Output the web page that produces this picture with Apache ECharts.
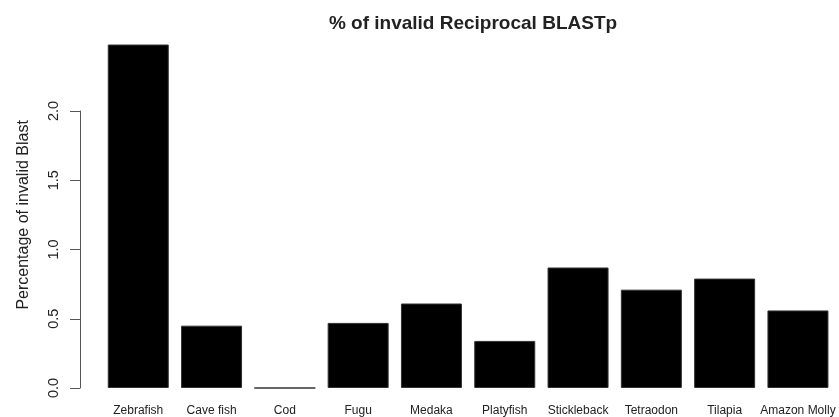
<!DOCTYPE html>
<html>
<head>
<meta charset="utf-8">
<script src="https://cdn.jsdelivr.net/npm/echarts@6/dist/echarts.min.js"></script>
<style>
  html, body { margin: 0; padding: 0; background: #fff; }
  #chart { width: 839px; height: 417px; }
</style>
</head>
<body>
<div id="chart"></div>
<script>
const species = ['Zebrafish', 'Cave fish', 'Cod', 'Fugu', 'Medaka', 'Platyfish', 'Stickleback', 'Tetraodon', 'Tilapia', 'Amazon Molly']
const invalidPct = [2.48, 0.45, 0, 0.47, 0.61, 0.34, 0.87, 0.71, 0.79, 0.56]
const yTicks = [0, 0.5, 1.0, 1.5, 2.0]

const font = 'Liberation Sans, Arial, Helvetica, sans-serif'
const ink = '#222'

const chart = echarts.init(document.getElementById('chart'))

chart.setOption({
  backgroundColor: '#fff',
  animation: false,
  title: {
    text: '% of invalid Reciprocal BLASTp',
    left: 468,
    textAlign: 'center',
    top: 9,
    textStyle: { fontFamily: font, fontSize: 19, fontWeight: 'bold', color: ink }
  },
  grid: [
    // plot region used by the bars
    { left: 101.6, right: 4.4, top: 41.75, bottom: 29 },
    // region spanning only the labelled ticks, for the R-style axis
    { left: 101.6, right: 4.4, top: 111, bottom: 29 }
  ],
  xAxis: [
    {
      type: 'category',
      gridIndex: 0,
      data: species,
      axisLine: { show: false },
      axisTick: { show: false },
      axisLabel: { interval: 0, margin: 17, fontFamily: font, fontSize: 12, color: ink }
    },
    { type: 'category', gridIndex: 1, data: species, show: false }
  ],
  yAxis: [
    {
      type: 'value',
      gridIndex: 0,
      min: 0,
      max: 2.5,
      name: 'Percentage of invalid Blast',
      nameLocation: 'middle',
      nameGap: 70,
      nameTextStyle: { fontFamily: font, fontSize: 16, color: ink },
      axisLine: { show: false },
      axisTick: { show: false },
      axisLabel: { show: false },
      splitLine: { show: false }
    },
    {
      type: 'value',
      gridIndex: 1,
      min: 0,
      max: 2,
      interval: 0.5,
      offset: 21.6,
      axisLine: { show: true, lineStyle: { color: '#555', width: 1 } },
      axisTick: { show: true, length: 10, lineStyle: { color: '#555', width: 1 } },
      axisLabel: {
        rotate: 90,
        margin: 19,
        fontFamily: font,
        fontSize: 14.5,
        color: ink,
        formatter: v => yTicks.includes(v) ? v.toFixed(1) : ''
      },
      splitLine: { show: false }
    }
  ],
  series: [
    {
      type: 'bar',
      xAxisIndex: 0,
      yAxisIndex: 0,
      data: invalidPct,
      barWidth: 61,
      itemStyle: { color: '#000', borderColor: '#333', borderWidth: 1 }
    }
  ]
})
</script>
</body>
</html>
